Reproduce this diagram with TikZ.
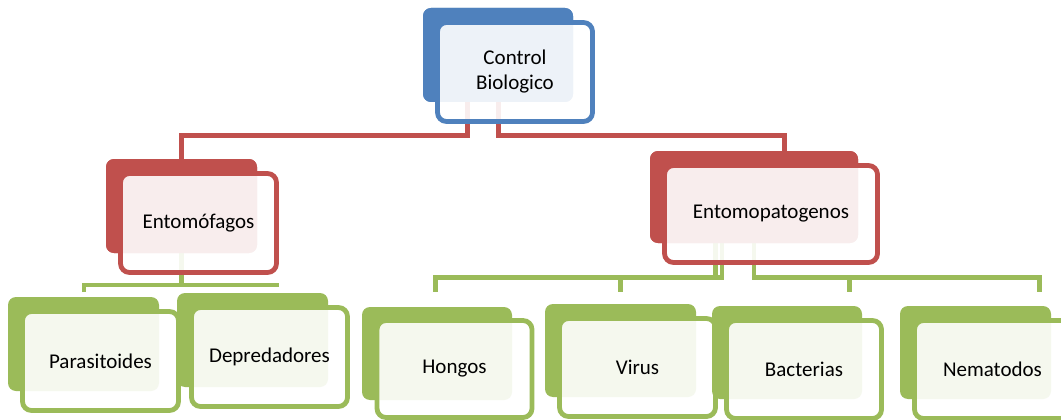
\documentclass[tikz,border=0pt]{standalone}
\usepackage{fontspec}
\setmainfont{Carlito}
\definecolor{cblue}{HTML}{4F81BD}
\definecolor{cred}{HTML}{C0504D}
\definecolor{cgreen}{HTML}{9BBB59}
\begin{document}
\begin{tikzpicture}[x=1pt,y=-1pt,
  backbox/.style={rectangle, rounded corners=8pt, fill=#1, anchor=north west, inner sep=0pt, outer sep=0pt},
  frontbox/.style={rectangle, rounded corners=9pt, draw=#1, line width=4.8pt, fill=white, fill opacity=0.9, text opacity=1, anchor=north west, inner sep=0pt, outer sep=0pt, align=center, font=\fontsize{21}{25}\selectfont},
  link/.style={line width=4.8pt, draw=#1},
]
\useasboundingbox (0,0) rectangle (1061,420);
\clip (0,0) rectangle (1061,420);
\fill[white] (0,0) rectangle (1061,420);

% back boxes (named first so connectors can refer to them)
\path
  (423,8)   node[backbox=cblue,  minimum width=150pt, minimum height=94pt] (cbb) {}
  (106,159) node[backbox=cred,   minimum width=151pt, minimum height=94pt] (efb) {}
  (650,151) node[backbox=cred,   minimum width=208pt, minimum height=92pt] (epb) {};

% connector end points
\coordinate (pa-in) at (84,292);
\coordinate (de-in) at (279,285);
\coordinate (ho-in) at (435.5,292);
\coordinate (vi-in) at (620.5,292);
\coordinate (ba-in) at (849.5,292);
\coordinate (ne-in) at (1039.5,292);

% red connectors
\draw[link=cred] (467.5,0 |- cbb.south) |- (efb.north |- 0,135.5) -- (efb.north);
\draw[link=cred] (498.5,0 |- cbb.south) |- (784.5,135.5) -- (784.5,0 |- epb.north);

% green connectors
\draw[link=cgreen] (efb.south) -- (efb.south |- de-in);
\draw[link=cgreen] (pa-in) |- (de-in);
\draw[link=cgreen] (715.5,0 |- epb.south) -- (715.5,277.5) -| (vi-in);
\draw[link=cgreen] (722,0 |- epb.south) -- (722,277.5) -| (ho-in);
\draw[link=cgreen] (epb.south) -- (epb.south |- 0,277.5) -| (ne-in);
\draw[link=cgreen] (epb.south |- 0,277.5) -| (ba-in);

% redraw back boxes over connectors
\path
  (423,8)   node[backbox=cblue,  minimum width=150pt, minimum height=94pt] {}
  (106,159) node[backbox=cred,   minimum width=151pt, minimum height=94pt] {}
  (650,151) node[backbox=cred,   minimum width=208pt, minimum height=92pt] {};

% front boxes of upper levels
\node[frontbox=cblue, minimum width=155pt, minimum height=99pt] (cbf) at (437.5,22.5) {Control\\Biologico};
\node[frontbox=cred, minimum width=156pt, minimum height=99pt] (eff) at (120.5,173.5) {Entomófagos};
\node[frontbox=cred, minimum width=213pt, minimum height=97pt] (epf) at (664.5,165.5) {Entomopatogenos};

% leaf boxes
\node[backbox=cgreen, minimum width=151pt, minimum height=94pt] (pab) at (8,297) {};
\node[frontbox=cgreen, minimum width=156pt, minimum height=99pt] (paf) at (22.5,311.5) {Parasitoides};
\node[backbox=cgreen, minimum width=151pt, minimum height=94pt] (deb) at (177,293) {};
\node[frontbox=cgreen, minimum width=156pt, minimum height=99pt] (def) at (191.5,307.5) {Depredadores};

\node[backbox=cgreen, minimum width=150pt, minimum height=93pt] (hob) at (362,307) {};
\node[frontbox=cgreen, minimum width=155pt, minimum height=97pt] (hof) at (377,320.5) {Hongos};
\node[backbox=cgreen, minimum width=151pt, minimum height=93pt] (vib) at (545,304) {};
\node[frontbox=cgreen, minimum width=156pt, minimum height=98pt] (vif) at (559.5,318.5) {Virus};
\node[backbox=cgreen, minimum width=150pt, minimum height=93pt] (bab) at (712,306) {};
\node[frontbox=cgreen, minimum width=155pt, minimum height=98pt] (baf) at (726.5,320.5) {Bacterias};
\node[backbox=cgreen, minimum width=151pt, minimum height=93pt] (neb) at (900,306) {};
\node[frontbox=cgreen, minimum width=156pt, minimum height=98pt] (nef) at (914.5,320.5) {Nematodos};
\end{tikzpicture}
\end{document}
